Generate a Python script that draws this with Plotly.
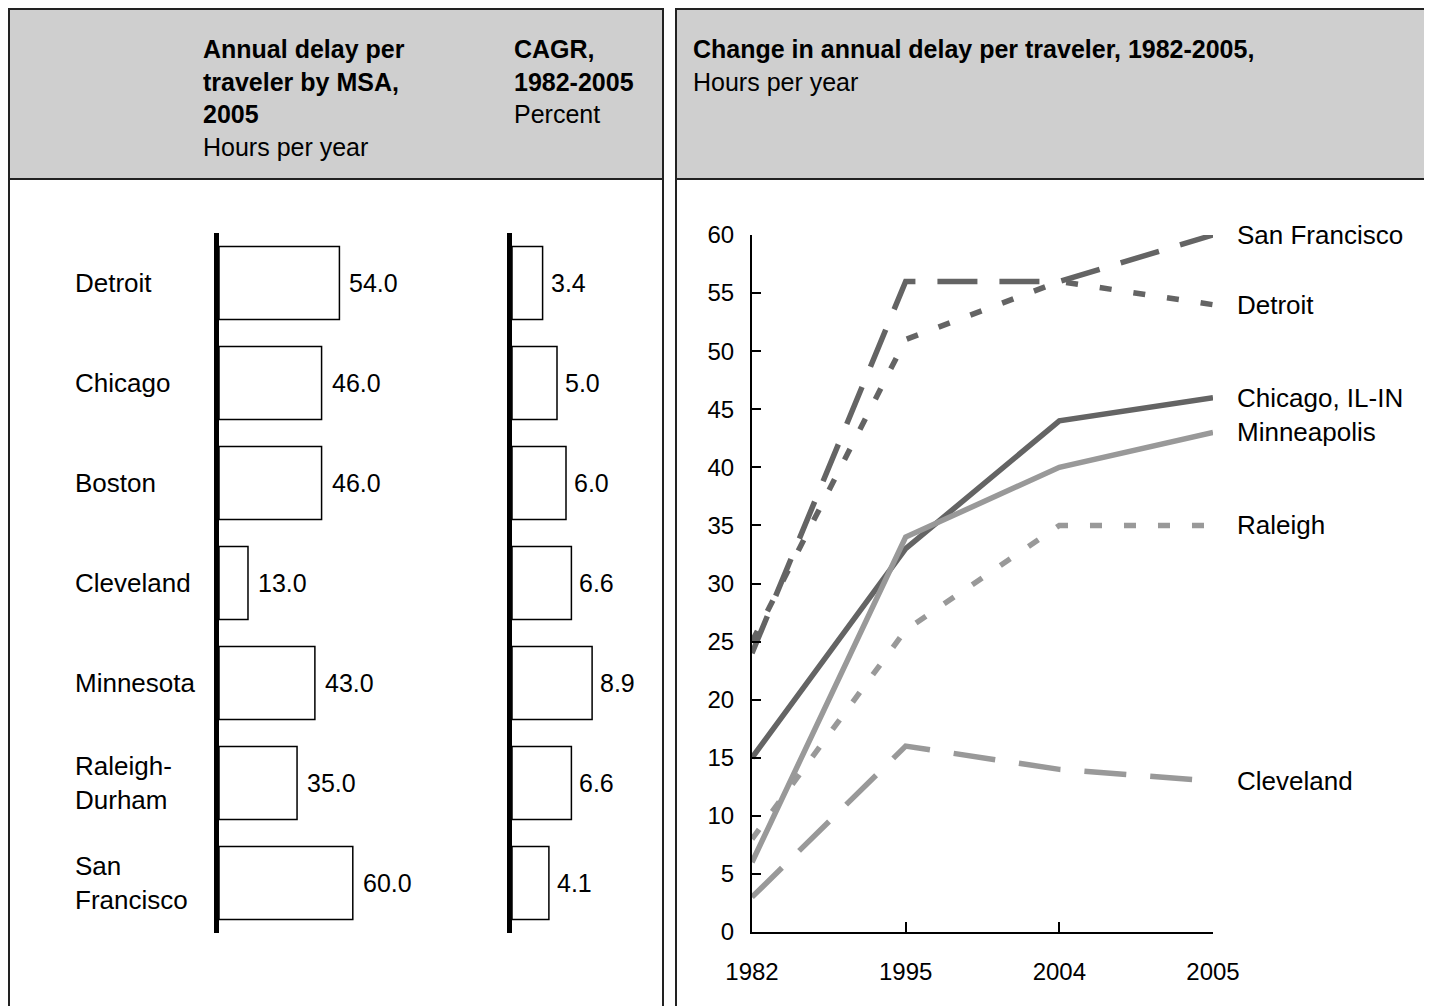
import plotly.graph_objects as go

OFF = 8  # page body margin: screen position = figure position + 8
W, H = 1432 - OFF, 1006 - OFF  # figure fits the window exactly, no scrollbars

# --- data ---
cities = ["Detroit", "Chicago", "Boston", "Cleveland", "Minnesota", "Raleigh-Durham", "San Francisco"]
city_labels = ["Detroit", "Chicago", "Boston", "Cleveland", "Minnesota", "Raleigh-<br>Durham", "San<br>Francisco"]
delay_2005 = [54.0, 46.0, 46.0, 13.0, 43.0, 35.0, 60.0]
cagr = [3.4, 5.0, 6.0, 6.6, 8.9, 6.6, 4.1]

years = ["1982", "1995", "2004", "2005"]
series_names = ["San Francisco", "Detroit", "Chicago, IL-IN", "Minneapolis", "Raleigh", "Cleveland"]
series_values = [
    [24, 56, 56, 60],
    [25, 51, 56, 54],
    [15, 33, 44, 46],
    [6, 34, 40, 43],
    [8, 26, 35, 35],
    [3, 16, 14, 13],
]
series_colors = ["#646464", "#646464", "#646464", "#999999", "#999999", "#999999"]
series_dash = ["40px,22px", "12px,22px", "solid", "solid", "12px,22px", "42px,24px"]

FONT = "Liberation Sans, Arial, sans-serif"


def px_x(p):
    # screen pixel -> paper fraction
    return (p - OFF) / W


def px_y(p):
    return 1 - (p - OFF) / H


fig = go.Figure()

# bars: annual delay
fig.add_trace(go.Bar(
    x=delay_2005, y=cities, orientation="h", width=0.73,
    marker=dict(color="white", line=dict(color="black", width=1.5)),
    xaxis="x", yaxis="y", showlegend=False,
))
# bars: CAGR
fig.add_trace(go.Bar(
    x=cagr, y=cities, orientation="h", width=0.73,
    marker=dict(color="white", line=dict(color="black", width=1.5)),
    xaxis="x2", yaxis="y2", showlegend=False,
))

# lines
last = len(years) - 1
for name, vals, col, dash in zip(series_names, series_values, series_colors, series_dash):
    fig.add_trace(go.Scatter(
        x=years, y=vals, mode="lines", name=name,
        line=dict(color=col, width=5.5, dash=dash),
        xaxis="x3", yaxis="y3", showlegend=False, cliponaxis=False,
    ))
    fig.add_annotation(
        x=last, y=vals[-1], xref="x3", yref="y3",
        text=name, showarrow=False, xanchor="left", yanchor="middle",
        xshift=22, font=dict(size=26, color="black", family=FONT),
    )

# value labels and city labels
for i, (lab, v, c) in enumerate(zip(city_labels, delay_2005, cagr)):
    fig.add_annotation(
        x=v, y=i, xref="x", yref="y", text=f"{v:.1f}",
        showarrow=False, xanchor="left", xshift=8,
        font=dict(size=25, color="black", family=FONT),
    )
    fig.add_annotation(
        x=c, y=i, xref="x2", yref="y2", text=f"{c:.1f}",
        showarrow=False, xanchor="left", xshift=6,
        font=dict(size=25, color="black", family=FONT),
    )
    fig.add_annotation(
        x=px_x(73), y=i, xref="paper", yref="y", text=lab,
        showarrow=False, xanchor="left", align="left",
        font=dict(size=26, color="black", family=FONT),
    )

# panel frames and headers
frame = dict(color="#222222", width=2)
fig.add_shape(type="rect", xref="paper", yref="paper",
              x0=px_x(9), x1=px_x(663), y0=px_y(179), y1=px_y(9),
              fillcolor="#cfcfcf", line=frame, layer="below")
fig.add_shape(type="rect", xref="paper", yref="paper",
              x0=px_x(9), x1=px_x(663), y0=px_y(1030), y1=px_y(9), line=frame)
fig.add_shape(type="rect", xref="paper", yref="paper",
              x0=px_x(676), x1=px_x(1460), y0=px_y(179), y1=px_y(9),
              fillcolor="#cfcfcf", line=frame, layer="below")
fig.add_shape(type="rect", xref="paper", yref="paper",
              x0=px_x(676), x1=px_x(1460), y0=px_y(1030), y1=px_y(9), line=frame)

headers = [
    (201, "<b>Annual delay per<br>traveler by MSA,<br>2005</b><br>Hours per year"),
    (512, "<b>CAGR,<br>1982-2005</b><br>Percent"),
    (691, "<b>Change in annual delay per traveler, 1982-2005,</b><br>Hours per year"),
]
for hx, txt in headers:
    fig.add_annotation(
        x=px_x(hx), y=px_y(33), xref="paper", yref="paper", text=txt,
        showarrow=False, xanchor="left", yanchor="top", align="left",
        font=dict(size=25, color="black", family=FONT),
    )

bar_y = dict(type="category", categoryorder="array", categoryarray=cities,
             range=[6.5, -0.5], showline=True, linewidth=5, linecolor="black",
             showticklabels=False, ticks="", showgrid=False, zeroline=False,
             automargin=False, domain=[px_y(933), px_y(233)])

fig.update_layout(
    template="none",
    width=W, height=H, margin=dict(l=0, r=0, t=0, b=0, autoexpand=False),
    paper_bgcolor="white", plot_bgcolor="rgba(0,0,0,0)",
    font=dict(family=FONT, size=24, color="black"),
    xaxis=dict(domain=[px_x(219), px_x(442)], range=[0, 100], visible=False,
               anchor="y", automargin=False),
    yaxis=dict(anchor="x", **bar_y),
    xaxis2=dict(domain=[px_x(512), px_x(602)], range=[0, 10], visible=False,
                anchor="y2", automargin=False),
    yaxis2=dict(anchor="x2", **bar_y),
    xaxis3=dict(domain=[px_x(752), px_x(1213)], type="category", range=[0, 3],
                anchor="y3", showline=True, linewidth=2, linecolor="black",
                ticks="inside", ticklen=10, tickwidth=2, tickcolor="black",
                showgrid=False, zeroline=False, ticklabelstandoff=17,
                automargin=False, tickfont=dict(size=24, family=FONT)),
    yaxis3=dict(domain=[px_y(932), px_y(235)], range=[0, 60], dtick=5,
                anchor="x3", showline=True, linewidth=2, linecolor="black",
                ticks="inside", ticklen=9, tickwidth=2, tickcolor="black",
                showgrid=False, zeroline=False, ticklabelstandoff=11,
                automargin=False, tickfont=dict(size=24, family=FONT)),
)

fig.write_html("out.html")
